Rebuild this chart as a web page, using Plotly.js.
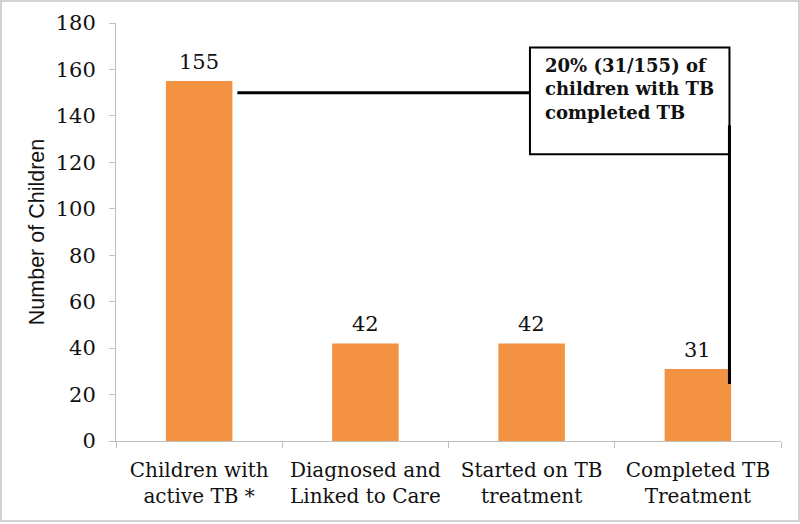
<!DOCTYPE html>
<html>
<head>
<meta charset="utf-8">
<script src="https://cdn.plot.ly/plotly-3.0.1.min.js"></script>
<style>
  html, body { margin: 0; padding: 0; background: #fff; }
  #wrap { position: relative; width: 800px; height: 524px; }
  #chart { width: 800px; height: 524px; }
  #frame { position: absolute; left: 0; top: 0; width: 800px; height: 522px; box-sizing: border-box;
           border: 2px solid #d2d2d2; pointer-events: none; }
</style>
</head>
<body>
<div id="wrap"><div id="chart"></div><div id="frame"></div></div>
<script>
// ---- data ----
const categories = [
  "Children with<br>active TB *",
  "Diagnosed and<br>Linked to Care",
  "Started on TB<br>treatment",
  "Completed TB<br>Treatment"
];
const children = [155, 42, 42, 31];
const yTicks = [0, 20, 40, 60, 80, 100, 120, 140, 160, 180];
const calloutLines = ["20% (31/155) of", "children with TB", "completed TB"];

// callout geometry (in axis units)
const calloutLineY = 150;
const calloutLineX0 = 0.23;
const boxX0 = 1.99, boxX1 = 3.19, boxY0 = 123.5, boxY1 = 169.5;
const vLineX = 3.19, vLineY0 = 24.5, vLineY1 = 136;

const serif = "DejaVu Serif, Liberation Serif, serif";

const trace = {
  type: "bar",
  x: categories,
  y: children,
  marker: { color: "#F39242", line: { width: 0 } },
  hoverinfo: "skip"
};

// value labels above bars
const valueLabels = categories.map((c, i) => ({
  xref: "x", yref: "y", x: c, y: children[i], yanchor: "bottom", yshift: 5,
  showarrow: false, text: String(children[i]),
  font: { family: serif, size: 21, color: "#111" }
}));

const layout = {
  width: 800, height: 524,
  margin: { l: 116, r: 19, t: 23, b: 83, pad: 0 },
  paper_bgcolor: "#fff", plot_bgcolor: "#fff",
  bargap: 0.6,
  showlegend: false,
  xaxis: {
    type: "category",
    showgrid: false, zeroline: false,
    showline: true, linecolor: "#bfbfbf", linewidth: 1,
    ticks: "outside", tickson: "boundaries", ticklen: 6, tickcolor: "#bfbfbf",
    tickfont: { family: serif, size: 20, color: "#111" },
    ticklabelstandoff: 11,
    tickangle: 0
  },
  yaxis: {
    range: [0, 180],
    tickvals: yTicks,
    showgrid: false, zeroline: false,
    showline: true, linecolor: "#bfbfbf", linewidth: 1,
    ticks: "outside", ticklen: 6, tickcolor: "#bfbfbf",
    tickfont: { family: serif, size: 21, color: "#111" },
    ticklabelstandoff: 9,
    title: { text: "Number of Children", standoff: 5,
             font: { family: "Liberation Sans, Arial, sans-serif", size: 21.5, color: "#111" } }
  },
  shapes: [
    { type: "line", xref: "x", yref: "y", x0: calloutLineX0, x1: boxX0, y0: calloutLineY, y1: calloutLineY,
      line: { color: "#000", width: 3 } },
    { type: "rect", xref: "x", yref: "y", x0: boxX0, x1: boxX1, y0: boxY0, y1: boxY1,
      line: { color: "#000", width: 2 }, fillcolor: "#fff" },
    { type: "line", xref: "x", yref: "y", x0: vLineX, x1: vLineX, y0: vLineY0, y1: vLineY1,
      line: { color: "#000", width: 3 } }
  ],
  annotations: valueLabels.concat([
    { xref: "x", yref: "y", x: 2.07, y: 167, xanchor: "left", yanchor: "top",
      align: "left", showarrow: false,
      text: calloutLines.map(s => "<b>" + s + "</b>").join("<br>"),
      font: { family: serif, size: 18, color: "#111" } }
  ])
};

Plotly.newPlot("chart", [trace], layout, { displayModeBar: false, staticPlot: true });
</script>
</body>
</html>
